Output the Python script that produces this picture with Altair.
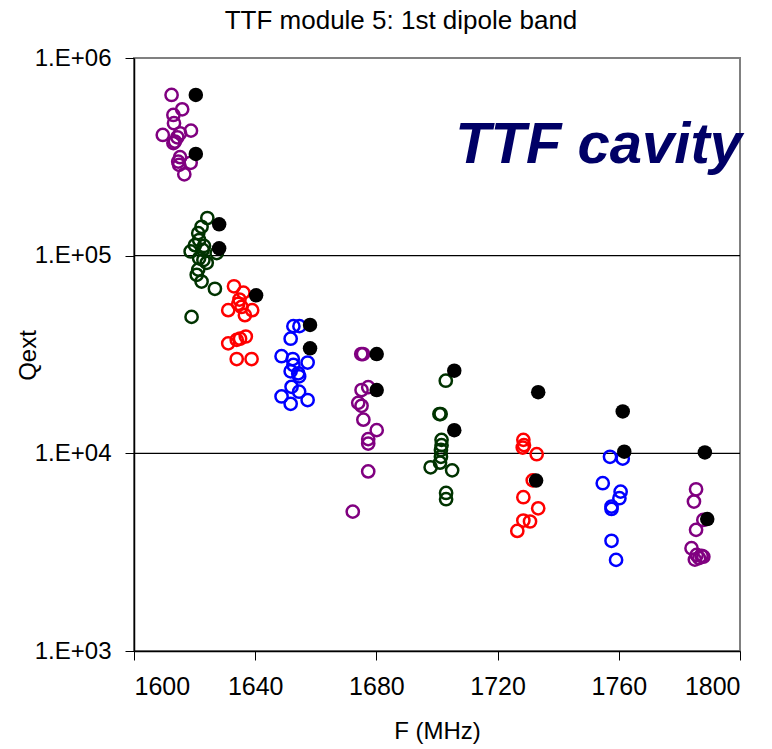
import altair as alt
import pandas as pd

# ---- data ----
purple1_f = [1612.4, 1615.9, 1613.0, 1613.2, 1609.5, 1618.8, 1615.2, 1614.3, 1613.5, 1613.0, 1615.2, 1614.6, 1614.9, 1618.7, 1616.6]
purple1_q = [6.5e5, 5.5e5, 5.15e5, 4.68e5, 4.08e5, 4.29e5, 4.16e5, 3.97e5, 3.78e5, 3.71e5, 3.15e5, 2.99e5, 2.88e5, 2.95e5, 2.58e5]

green1_f = [1624.2, 1622.3, 1621.2, 1621.5, 1618.7, 1622.7, 1627.3, 1621.5, 1622.9, 1624.0, 1621.2, 1620.7, 1622.3, 1626.7, 1619.0, 1620.1, 1623.1]
green1_q = [1.55e5, 1.40e5, 1.30e5, 1.20e5, 1.05e5, 1.07e5, 1.03e5, 9.7e4, 9.5e4, 9.2e4, 8.5e4, 8.0e4, 7.4e4, 6.8e4, 4.9e4, 1.13e5, 1.12e5]

red1_f = [1633.0, 1636.1, 1634.8, 1634.4, 1631.1, 1635.5, 1639.0, 1636.6, 1631.1, 1633.9, 1635.0, 1636.9, 1633.9, 1638.8]
red1_q = [7.0e4, 6.5e4, 6.0e4, 5.7e4, 5.3e4, 5.5e4, 5.3e4, 5.0e4, 3.6e4, 3.75e4, 3.8e4, 3.9e4, 3.0e4, 3.0e4]

blue1_f = [1652.6, 1654.6, 1651.7, 1648.7, 1652.4, 1657.3, 1652.6, 1651.7, 1654.2, 1654.5, 1652.0, 1654.5, 1648.7, 1657.3, 1651.7]
blue1_q = [4.4e4, 4.4e4, 3.8e4, 3.1e4, 3.0e4, 2.88e4, 2.8e4, 2.6e4, 2.54e4, 2.45e4, 2.17e4, 2.05e4, 1.94e4, 1.86e4, 1.78e4]

purple2_f = [1675.0, 1675.6, 1675.1, 1677.3, 1674.0, 1675.1, 1675.7, 1680.1, 1677.3, 1677.3, 1677.3, 1672.2]
purple2_q = [3.18e4, 3.18e4, 2.09e4, 2.16e4, 1.80e4, 1.74e4, 1.48e4, 1.31e4, 1.18e4, 1.12e4, 8.1e3, 5.07e3]

green2_f = [1702.9, 1700.8, 1701.2, 1701.5, 1701.5, 1701.3, 1701.3, 1701.0, 1697.9, 1705.0, 1703.0, 1703.0]
green2_q = [2.33e4, 1.58e4, 1.58e4, 1.17e4, 1.10e4, 1.04e4, 9.6e3, 8.97e3, 8.5e3, 8.2e3, 6.3e3, 5.86e3]

red2_f = [1728.5, 1728.7, 1728.3, 1732.9, 1731.6, 1728.5, 1733.4, 1728.5, 1730.7, 1726.5]
red2_q = [1.17e4, 1.10e4, 1.07e4, 9.9e3, 7.3e3, 6.0e3, 5.27e3, 4.57e3, 4.52e3, 4.05e3]

blue2_f = [1757.1, 1761.3, 1754.7, 1760.6, 1760.2, 1757.6, 1757.6, 1757.6, 1759.1]
blue2_q = [9.6e3, 9.4e3, 7.06e3, 6.4e3, 5.93e3, 5.38e3, 5.23e3, 3.61e3, 2.89e3]

purple3_f = [1785.5, 1784.8, 1785.5, 1787.9, 1784.0, 1785.7, 1787.3, 1787.9, 1786.5, 1785.1]
purple3_q = [6.58e3, 5.7e3, 4.1e3, 4.6e3, 3.31e3, 3.06e3, 3.03e3, 3.0e3, 2.95e3, 2.9e3]

black_f = [1620.4, 1620.4, 1628.1, 1628.1, 1640.3, 1658.1, 1658.1, 1680.1, 1680.1, 1705.7, 1705.7, 1733.4, 1732.7, 1761.3, 1761.8, 1788.4, 1789.2]
black_q = [6.5e5, 3.27e5, 1.44e5, 1.09e5, 6.3e4, 4.46e4, 3.4e4, 3.18e4, 2.09e4, 2.62e4, 1.31e4, 2.04e4, 7.28e3, 1.63e4, 1.02e4, 1.01e4, 4.65e3]

groups = ["purple", "green", "red", "blue"]
group_colors = ["#800080", "#003300", "#FF0000", "#0000FF"]

x_ticks = [1600, 1640, 1680, 1720, 1760, 1800]
y_ticks = [1e3, 1e4, 1e5, 1e6]
grid_q = [1e4, 1e5]

title_text = "TTF module 5: 1st dipole band"
note_text = "TTF cavity"

# ---- build tables ----
rows = []
for g, fs, qs in [
    ("purple", purple1_f, purple1_q), ("green", green1_f, green1_q),
    ("red", red1_f, red1_q), ("blue", blue1_f, blue1_q),
    ("purple", purple2_f, purple2_q), ("green", green2_f, green2_q),
    ("red", red2_f, red2_q), ("blue", blue2_f, blue2_q),
    ("purple", purple3_f, purple3_q),
]:
    for f, q in zip(fs, qs):
        rows.append({"F": f, "Q": q, "g": g})
open_df = pd.DataFrame(rows)
black_df = pd.DataFrame({"F": black_f, "Q": black_q})
grid_df = pd.DataFrame({"Q": grid_q})

FONT = "Liberation Sans"

xsc = alt.Scale(domain=[1600, 1800], nice=False, zero=False)
ysc = alt.Scale(type="log", domain=[1e3, 1e6], nice=False)

x_axis = alt.Axis(values=x_ticks, format="d", title="F (MHz)", grid=False, tickSize=9,
                  tickColor="black", domainColor="black", domainWidth=1.5,
                  labelPadding=14, labelFontSize=25, labelFont=FONT, labelColor="black",
                  titleFontSize=24, titleFont=FONT, titleFontWeight="normal",
                  titleColor="black", titleY=80, titleBaseline="middle")
y_axis = alt.Axis(values=y_ticks, title="Qext", grid=False, tickSize=9,
                  tickColor="black", domainColor="black", domainWidth=1.5,
                  labelExpr="'1.E+0' + format(log(datum.value)/log(10), '.0f')",
                  labelPadding=14, labelFontSize=24, labelFont=FONT, labelColor="black",
                  titleFontSize=24, titleFont=FONT, titleFontWeight="normal",
                  titleColor="black", titleX=-106, titleY=297, titleAngle=-90,
                  titleAlign="center", titleBaseline="middle")

grid = alt.Chart(grid_df).mark_rule(color="black", strokeWidth=1.2).encode(
    y=alt.Y("Q:Q", scale=ysc, axis=y_axis)
)

opens = alt.Chart(open_df).mark_point(shape="circle", filled=False, size=150, strokeWidth=2.5,
                                      opacity=1).encode(
    x=alt.X("F:Q", scale=xsc, axis=x_axis),
    y=alt.Y("Q:Q", scale=ysc, axis=y_axis),
    color=alt.Color("g:N", scale=alt.Scale(domain=groups, range=group_colors), legend=None),
)

blacks = alt.Chart(black_df).mark_circle(color="black", size=210, opacity=1).encode(
    x=alt.X("F:Q", scale=xsc, axis=x_axis),
    y=alt.Y("Q:Q", scale=ysc, axis=y_axis),
)

note = alt.Chart(pd.DataFrame({"t": [note_text]})).mark_text(
    font=FONT, fontSize=58, fontWeight="bold", fontStyle="italic", color="#000066",
    align="right", baseline="alphabetic"
).encode(text="t:N", x=alt.value(608), y=alt.value(105))

chart = alt.layer(grid, opens, blacks, note).properties(
    width=606, height=593,
    title=alt.TitleParams(title_text, fontSize=26, font=FONT, fontWeight="normal",
                          color="black", anchor="middle", dx=-36, offset=12),
    autosize=alt.AutoSizeParams(type="none"),
    padding={"left": 126, "top": 50, "right": 20, "bottom": 97},
).configure_view(stroke="#808080", strokeWidth=2)

chart.save("out.html", embed_options={"renderer": "svg", "actions": False})
